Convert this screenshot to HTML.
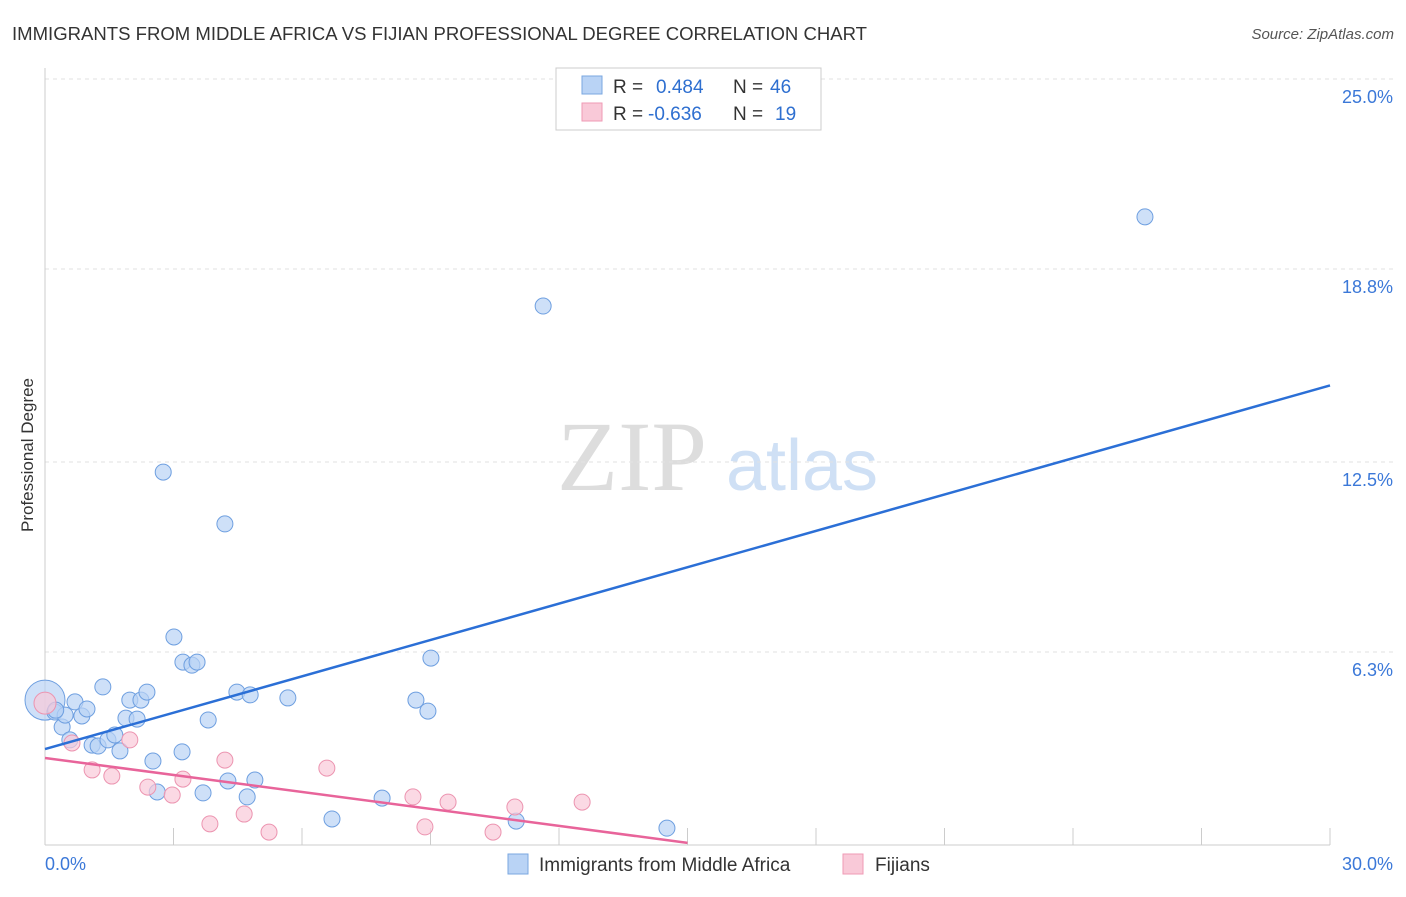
<!DOCTYPE html>
<html><head><meta charset="utf-8"><style>
body{margin:0;background:#fff;font-family:"Liberation Sans",sans-serif;}
svg text{font-family:"Liberation Sans",sans-serif;}
</style></head><body>
<svg id="chart" width="1406" height="892" xmlns="http://www.w3.org/2000/svg">
<text x="12" y="40" font-size="18" fill="#333" textLength="855" lengthAdjust="spacingAndGlyphs">IMMIGRANTS FROM MIDDLE AFRICA VS FIJIAN PROFESSIONAL DEGREE CORRELATION CHART</text>
<text x="1394" y="39" font-size="15" fill="#555" text-anchor="end" font-style="italic">Source: ZipAtlas.com</text>
<text x="33" y="455" font-size="17" fill="#333" text-anchor="middle" transform="rotate(-90 33 455)">Professional Degree</text>
<g>
<text x="632" y="490" font-size="100" fill="#ddd" text-anchor="middle" style="font-family:'Liberation Serif',serif">ZIP</text>
<text x="802" y="490" font-size="72" fill="#cfe0f5" text-anchor="middle">atlas</text>
</g>
<g id="grid"></g>
<g id="axes"></g>
<g id="marks"></g>
<g>
<rect x="556" y="68" width="265" height="62" fill="#fff" stroke="#ccc"/>
<rect x="582" y="76" width="20" height="18" fill="#b9d3f5" stroke="#7aa7e0"/>
<rect x="582" y="103" width="20" height="18" fill="#f9c9d8" stroke="#ef9ab5"/>
<text x="613" y="93" font-size="19" fill="#333">R =</text>
<text x="656" y="93" font-size="19" fill="#2e6fd0">0.484</text>
<text x="733" y="93" font-size="19" fill="#333">N =</text>
<text x="770" y="93" font-size="19" fill="#2e6fd0">46</text>
<text x="613" y="120" font-size="19" fill="#333">R =</text>
<text x="648" y="120" font-size="19" fill="#2e6fd0">-0.636</text>
<text x="733" y="120" font-size="19" fill="#333">N =</text>
<text x="775" y="120" font-size="19" fill="#2e6fd0">19</text>
</g>
<g>
<rect x="508" y="854" width="20" height="20" fill="#b9d3f5" stroke="#7aa7e0"/>
<text x="539" y="871" font-size="19" fill="#333">Immigrants from Middle Africa</text>
<rect x="843" y="854" width="20" height="20" fill="#f9c9d8" stroke="#ef9ab5"/>
<text x="875" y="871" font-size="19" fill="#333">Fijians</text>
</g>
</svg>
<script>
const yTicks=[6.3,12.5,18.8,25.0];
const yTickLabels=["6.3%","12.5%","18.8%","25.0%"];
const xTicks=[0,3,6,9,12,15,18,21,24,27,30];
const blueX=[0,0.23,0.40,0.47,0.70,0.86,0.98,0.58,1.10,1.24,1.35,1.47,1.63,1.75,1.89,1.98,2.15,2.24,2.38,2.52,2.62,2.76,3.01,3.20,3.22,3.43,3.55,3.69,3.81,4.20,4.27,4.48,4.72,4.79,4.90,5.67,6.70,7.87,8.66,8.94,9.01,11.0,11.63,14.52,25.68,0.25];
const blueY=[4.73,4.34,3.85,4.24,4.67,4.21,4.44,3.43,3.26,3.23,5.16,3.43,3.59,3.07,4.14,4.73,4.11,4.73,4.99,2.74,1.73,12.17,6.79,3.04,5.97,5.87,5.97,1.70,4.08,10.48,2.09,4.99,1.57,4.90,2.12,4.80,0.85,1.53,4.73,4.37,6.10,0.78,17.59,0.55,20.5,4.40];
const pinkX=[0,0.63,1.10,1.56,1.98,2.40,2.97,3.22,3.85,4.20,4.65,5.23,6.58,8.59,8.87,9.41,10.46,10.97,12.54];
const pinkY=[4.63,3.33,2.45,2.25,3.43,1.89,1.63,2.15,0.69,2.77,1.01,0.42,2.51,1.57,0.59,1.40,0.42,1.24,1.40];
const blueLine=[[0,3.13],[30,15.0]];
const pinkLine=[[0,2.84],[15,0.07]];
const NS="http://www.w3.org/2000/svg";
const sx=v=>45+v/30*1285, sy=v=>845-v/25*766;
function mk(t,a,p){const e=document.createElementNS(NS,t);for(const k in a)e.setAttribute(k,a[k]);p.appendChild(e);return e;}
const grid=document.getElementById('grid'),axes=document.getElementById('axes'),marks=document.getElementById('marks');
yTicks.forEach((t,i)=>{
 const l=mk('line',{x1:45,x2:1395,y1:sy(t),y2:sy(t),stroke:'#e2e2e2','stroke-dasharray':'4,4'},grid);
 
 
 const tx=mk('text',{x:1393,y:sy(t)+24,'font-size':18,fill:'#3b78d8','text-anchor':'end'},axes);
 tx.textContent=yTickLabels[i];
 
 
});
const ax=mk('line',{x1:45,x2:45,y1:68,y2:845,stroke:'#ccc'},axes);


const bx=mk('line',{x1:45,x2:1330,y1:845,y2:845,stroke:'#ccc'},axes);


xTicks.forEach(t=>{const l=mk('line',{x1:sx(t),x2:sx(t),y1:828,y2:845,stroke:'#ccc'},axes);
 
 });
[[0,'0.0%','start',45],[30,'30.0%','end',1393]].forEach(d=>{const t=mk('text',{x:d[3],y:870,'font-size':18,fill:'#3b78d8','text-anchor':d[2]},axes);t.textContent=d[1];
 
 });
blueX.forEach((x,i)=>{const c=mk('circle',{cx:sx(x),cy:sy(blueY[i]),r:i===0?20:8,fill:'#b9d3f5','fill-opacity':0.7,stroke:'#6e9fe0','stroke-width':1},marks);
 
 });
pinkX.forEach((x,i)=>{const c=mk('circle',{cx:sx(x),cy:sy(pinkY[i]),r:i===0?11:8,fill:'#f9c9d8','fill-opacity':0.7,stroke:'#ec94b0','stroke-width':1},marks);
 
 });
const bl=mk('line',{x1:sx(blueLine[0][0]),y1:sy(blueLine[0][1]),x2:sx(blueLine[1][0]),y2:sy(blueLine[1][1]),stroke:'#2b6fd6','stroke-width':2.5},marks);


const pl=mk('line',{x1:sx(pinkLine[0][0]),y1:sy(pinkLine[0][1]),x2:sx(pinkLine[1][0]),y2:sy(pinkLine[1][1]),stroke:'#e8649a','stroke-width':2.5},marks);


</script>
</body></html>
